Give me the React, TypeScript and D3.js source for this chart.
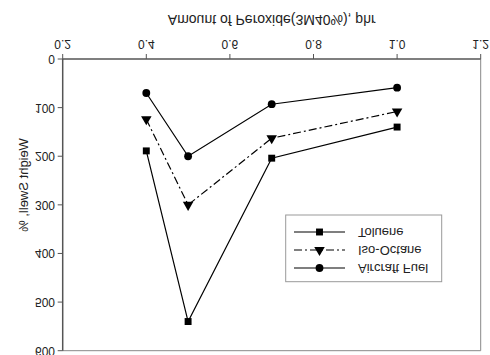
import * as d3 from 'd3';

// the reference is a normal chart shown upside down (vertical flip)
const W = 490;
const H = 355;

const amounts = [0.4, 0.5, 0.7, 1.0];
const toluene = [189, 540, 204, 140];
const isoOctane = [124, 300, 163, 108];
const aircraftFuel = [70, 200, 93, 59];

const xTicks = [0.2, 0.4, 0.6, 0.8, 1.0, 1.2];
const yTicks = [0, 100, 200, 300, 400, 500, 600];

const series = [
  { name: 'Aircraft Fuel', values: aircraftFuel, symbol: d3.symbolCircle, dash: null },
  { name: 'Iso-Octane', values: isoOctane, symbol: d3.symbolTriangle, dash: '8,3,2,3' },
  { name: 'Toluene', values: toluene, symbol: d3.symbolSquare, dash: null },
];

const font = '"Liberation Sans", Arial, sans-serif';

const App = () => {
  const x = d3.scaleLinear().domain([0.2, 1.2]).range([62.7, 480.7]);
  const y = d3.scaleLinear().domain([0, 600]).range([296, 4.3]);
  const line = d3
    .line<number>()
    .x((d, i) => x(amounts[i]))
    .y((d) => y(d));

  const sym = (type: d3.SymbolType, size: number) => d3.symbol().type(type).size(size)();

  const legendX = 285.7;
  const legendY = 73.3;
  const legendRows = [87, 105, 123];

  return (
    <svg
      width={W}
      height={H}
      style={{ position: 'absolute', left: 0, top: 0, background: '#fff' }}
      fontFamily={font}
    >
      <g transform={`translate(0,${H}) scale(1,-1)`}>
        {/* frame */}
        <line x1={x(1.2)} x2={x(1.2)} y1={y(0)} y2={y(600)} stroke="#888" strokeWidth={1} />
        <line x1={x(0.2)} x2={x(1.2)} y1={y(600)} y2={y(600)} stroke="#888" strokeWidth={1} />
        {/* x axis */}
        <line x1={x(0.2)} x2={x(1.2)} y1={y(0)} y2={y(0)} stroke="#555" strokeWidth={1.5} />
        {xTicks.map((t) => (
          <g key={t}>
            <line x1={x(t)} x2={x(t)} y1={y(0)} y2={y(0) + 5} stroke="#555" strokeWidth={1} />
            <text x={x(t)} y={311.5} textAnchor="middle" dominantBaseline="central" fontSize={12} fill="#222">
              {t.toFixed(1)}
            </text>
          </g>
        ))}
        <text x={(x(0.2) + x(1.2)) / 2} y={335} textAnchor="middle" dominantBaseline="central" fontSize={14} fill="#222">
          Amount of Peroxide(3M40%), phr
        </text>
        {/* y axis */}
        <line x1={x(0.2)} x2={x(0.2)} y1={y(0)} y2={y(600)} stroke="#555" strokeWidth={1.5} />
        {yTicks.map((t) => (
          <g key={t}>
            <line x1={x(0.2) - 5} x2={x(0.2)} y1={y(t)} y2={y(t)} stroke="#555" strokeWidth={1} />
            <text x={55} y={y(t)} textAnchor="end" dominantBaseline="central" fontSize={12} fill="#222">
              {t}
            </text>
          </g>
        ))}
        <text
          transform={`translate(23,170) rotate(-90)`}
          textAnchor="middle"
          dominantBaseline="central"
          fontSize={13}
          fill="#222"
        >
          Weight Swell, %
        </text>
        {/* series */}
        {series.map((s) => (
          <g key={s.name}>
            <path d={line(s.values) ?? ''} fill="none" stroke="#000" strokeWidth={1.2} strokeDasharray={s.dash ?? undefined} />
            {s.values.map((v, i) => (
              <path key={i} d={sym(s.symbol, 48) ?? ''} transform={`translate(${x(amounts[i])},${y(v)})`} fill="#000" />
            ))}
          </g>
        ))}
        {/* legend */}
        <rect x={legendX} y={legendY} width={156} height={66.7} fill="#fff" stroke="#999" strokeWidth={1} />
        {series.map((s, i) => (
          <g key={s.name} transform={`translate(0,${legendRows[i]})`}>
            <line x1={294} x2={345} y1={0} y2={0} stroke="#000" strokeWidth={1.2} strokeDasharray={s.dash ?? undefined} />
            <path d={sym(s.symbol, 48) ?? ''} transform="translate(319.5,0)" fill="#000" />
            <text x={358} y={0} dominantBaseline="central" fontSize={13} fill="#222">
              {s.name}
            </text>
          </g>
        ))}
      </g>
    </svg>
  );
};

export default App;
